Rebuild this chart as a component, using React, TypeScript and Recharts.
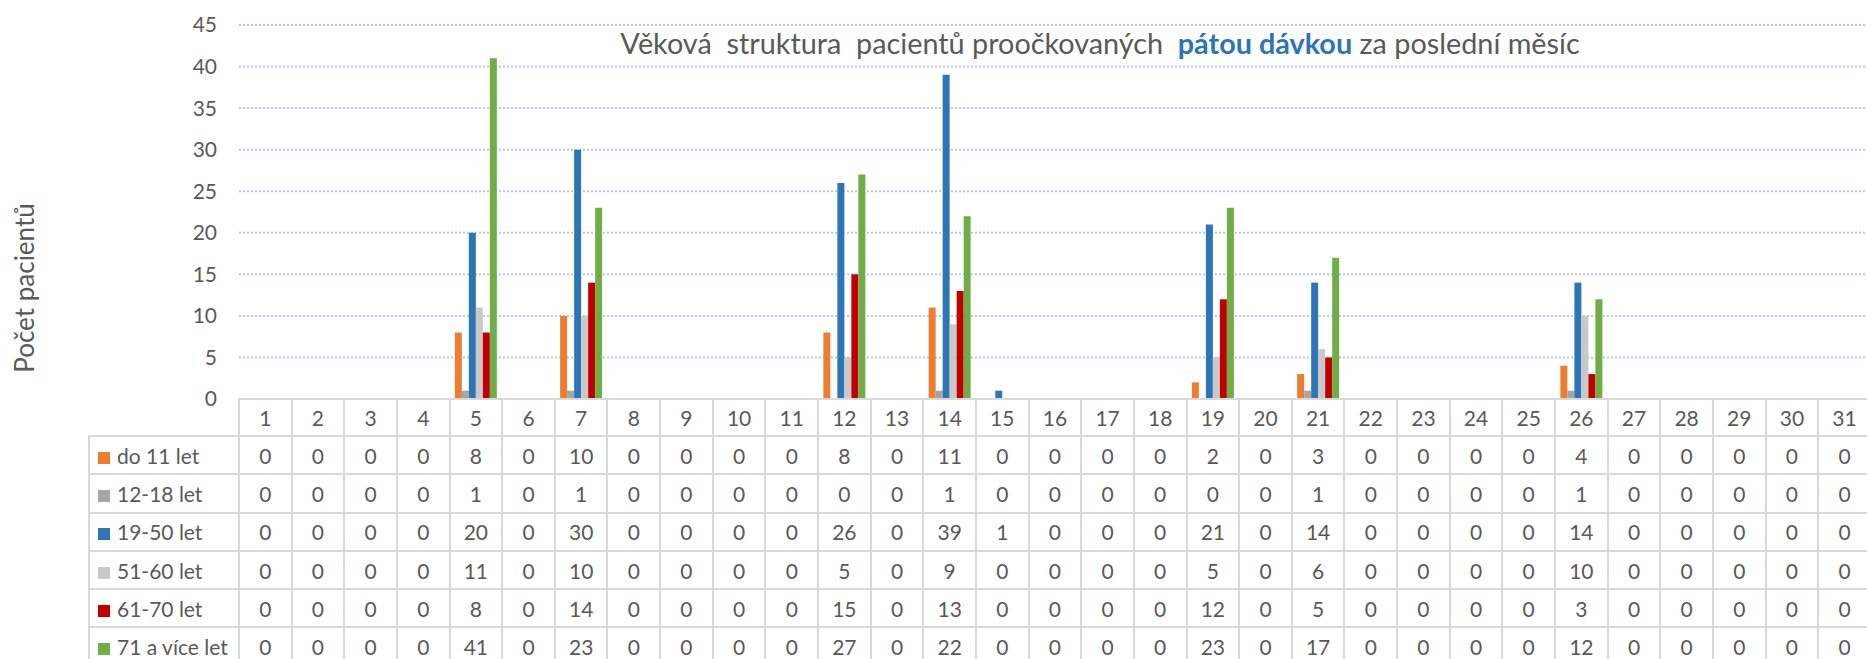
import React from 'react';
import { BarChart, Bar, XAxis, YAxis, CartesianGrid } from 'recharts';

// day of month (columns of the data table)
const days = [
  '1', '2', '3', '4', '5', '6', '7', '8', '9', '10', '11', '12', '13', '14', '15', '16',
  '17', '18', '19', '20', '21', '22', '23', '24', '25', '26', '27', '28', '29', '30', '31',
];

const do11 = [0, 0, 0, 0, 8, 0, 10, 0, 0, 0, 0, 8, 0, 11, 0, 0, 0, 0, 2, 0, 3, 0, 0, 0, 0, 4, 0, 0, 0, 0, 0];
const age1218 = [0, 0, 0, 0, 1, 0, 1, 0, 0, 0, 0, 0, 0, 1, 0, 0, 0, 0, 0, 0, 1, 0, 0, 0, 0, 1, 0, 0, 0, 0, 0];
const age1950 = [0, 0, 0, 0, 20, 0, 30, 0, 0, 0, 0, 26, 0, 39, 1, 0, 0, 0, 21, 0, 14, 0, 0, 0, 0, 14, 0, 0, 0, 0, 0];
const age5160 = [0, 0, 0, 0, 11, 0, 10, 0, 0, 0, 0, 5, 0, 9, 0, 0, 0, 0, 5, 0, 6, 0, 0, 0, 0, 10, 0, 0, 0, 0, 0];
const age6170 = [0, 0, 0, 0, 8, 0, 14, 0, 0, 0, 0, 15, 0, 13, 0, 0, 0, 0, 12, 0, 5, 0, 0, 0, 0, 3, 0, 0, 0, 0, 0];
const age71 = [0, 0, 0, 0, 41, 0, 23, 0, 0, 0, 0, 27, 0, 22, 0, 0, 0, 0, 23, 0, 17, 0, 0, 0, 0, 12, 0, 0, 0, 0, 0];

const yTicks = [0, 5, 10, 15, 20, 25, 30, 35, 40, 45];

const series = [
  { key: 's1', name: 'do 11 let', color: '#ED7D31', values: do11 },
  { key: 's2', name: '12-18 let', color: '#A5A5A5', values: age1218 },
  { key: 's3', name: '19-50 let', color: '#2E75B6', values: age1950 },
  { key: 's4', name: '51-60 let', color: '#C9C9C9', values: age5160 },
  { key: 's5', name: '61-70 let', color: '#C00000', values: age6170 },
  { key: 's6', name: '71 a více let', color: '#70AD47', values: age71 },
];

const data = days.map((d, i) => {
  const row: Record<string, string | number> = { day: d };
  series.forEach(s => { row[s.key] = s.values[i]; });
  return row;
});

const FONT = 'Lato, "Open Sans", sans-serif';
const TEXT = '#595959';
const BORDER = '2px solid #D9D9D9';

const CHART_W = 1875;
const CHART_H = 430;
const MARGIN = { top: 25, right: 4, bottom: 31, left: 179 };
const Y_W = 60;
const PLOT_LEFT = MARGIN.left + Y_W;
const COL_W = (CHART_W - MARGIN.left - Y_W - MARGIN.right) / days.length;
const LEGEND_LEFT = 89;
const LEGEND_W = PLOT_LEFT - LEGEND_LEFT;

const cell: React.CSSProperties = {
  border: BORDER,
  textAlign: 'center',
  padding: 0,
  fontSize: 21,
  color: TEXT,
};

const App: React.FC = () => {
  return (
    <div style={{ position: 'absolute', left: 0, top: 0, width: 1867, height: 659, overflow: 'hidden', background: '#fff', fontFamily: FONT }}>
      <BarChart
        width={CHART_W}
        height={CHART_H}
        data={data}
        margin={MARGIN}
        barCategoryGap="10%"
        barGap={0}
      >
        <CartesianGrid vertical={false} stroke="#B4C7E7" strokeDasharray="2 2" strokeWidth={2} />
        <XAxis dataKey="day" hide />
        <YAxis
          width={Y_W}
          domain={[0, 45]}
          ticks={yTicks}
          interval={0}
          axisLine={false}
          tickLine={false}
          tickSize={0}
          tickMargin={22}
          tick={{ fill: TEXT, fontSize: 21, fontFamily: FONT }}
        />
        {series.map(s => (
          <Bar key={s.key} dataKey={s.key} name={s.name} fill={s.color} isAnimationActive={false} />
        ))}
      </BarChart>

      <div style={{ position: 'absolute', left: 0, top: 43, width: 2200, textAlign: 'center', fontSize: 28.8, color: TEXT, lineHeight: '1', transform: 'translateY(-50%)', whiteSpace: 'nowrap' }}>
        Věková&nbsp; struktura&nbsp; pacientů proočkovaných&nbsp; <span style={{ color: '#2E75B6', fontWeight: 700 }}>pátou dávkou</span> za poslední měsíc
      </div>

      <div style={{ position: 'absolute', left: 24, top: 288, fontSize: 26, color: TEXT, transform: 'translate(-50%, -50%) rotate(-90deg)', whiteSpace: 'nowrap' }}>
        Počet pacientů
      </div>

      <table style={{ position: 'absolute', left: LEGEND_LEFT - 1, top: 398, borderCollapse: 'collapse', tableLayout: 'fixed', width: LEGEND_W + COL_W * days.length, fontFamily: FONT }}>
        <colgroup>
          <col style={{ width: LEGEND_W }} />
          {days.map(d => <col key={d} style={{ width: COL_W }} />)}
        </colgroup>
        <tbody>
          <tr style={{ height: 37 }}>
            <td style={{ padding: 0, border: 'none' }} />
            {days.map(d => <td key={d} style={cell}>{d}</td>)}
          </tr>
          {series.map(s => (
            <tr key={s.key} style={{ height: 38.3 }}>
              <td style={{ ...cell, textAlign: 'left', whiteSpace: 'nowrap' }}>
                <span style={{ display: 'inline-block', width: 12, height: 12, background: s.color, marginLeft: 8, marginRight: 7 }} />
                {s.name}
              </td>
              {s.values.map((v, i) => <td key={i} style={cell}>{v}</td>)}
            </tr>
          ))}
        </tbody>
      </table>
    </div>
  );
};

export default App;
